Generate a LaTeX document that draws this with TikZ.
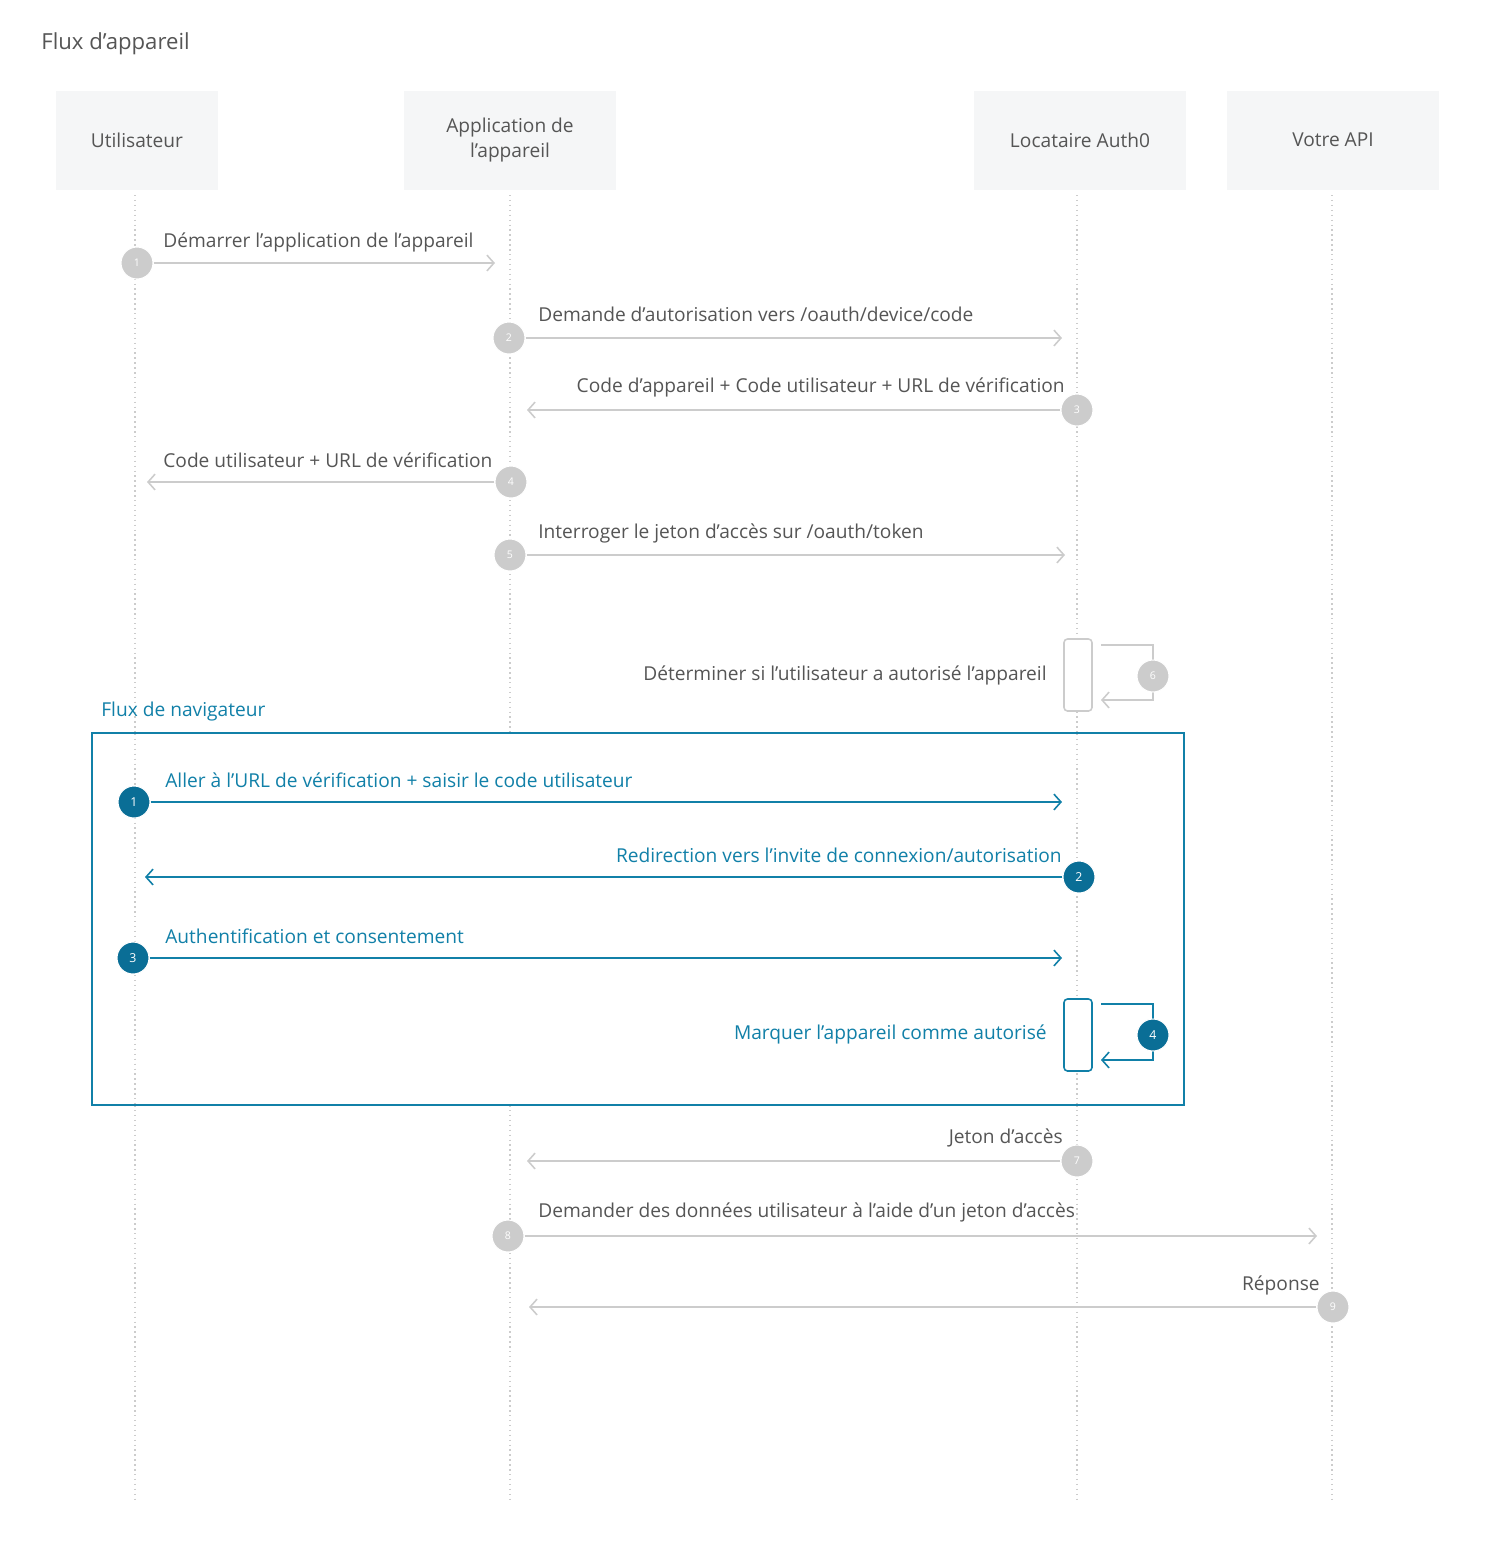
\documentclass[tikz,border=0pt]{standalone}
\usepackage{fontspec}
\setmainfont{Open Sans}
\usetikzlibrary{arrows.meta,positioning}
\definecolor{greyline}{RGB}{204,204,204}
\definecolor{greytext}{RGB}{85,85,85}
\definecolor{headfill}{RGB}{245,246,247}
\definecolor{teal}{RGB}{17,128,168}
\definecolor{tealdark}{RGB}{10,110,150}
\tikzset{
  % header
  headbox/.style ={fill=headfill,minimum height=1.98cm,align=center,text=greytext,font=\fontsize{10.9}{14.5}\selectfont},
  life/.style    ={greyline,dotted,line width=0.8pt},
  % message
  msgline/.style ={greyline,line width=0.9pt,-{Straight Barb[length=4pt,width=9pt]}},
  msgtext/.style ={text=greytext,font=\fontsize{10.9}{13}\selectfont,inner sep=0pt},
  stepdot/.style ={circle,fill=greyline,draw=white,line width=0.6pt,minimum size=0.64cm,inner sep=0pt,text=white,font=\fontsize{6}{6}\selectfont},
  bluline/.style ={teal,line width=0.9pt,-{Straight Barb[length=4pt,width=9pt]}},
  blutext/.style ={text=teal,font=\fontsize{10.9}{13}\selectfont,inner sep=0pt},
  bludot/.style  ={circle,fill=tealdark,draw=white,line width=0.6pt,minimum size=0.64cm,inner sep=0pt,text=white,font=\fontsize{7}{7}\selectfont}
}
\begin{document}
\begin{tikzpicture}[x=0.02cm,y=-0.02cm]
  \useasboundingbox (0,0) rectangle (1500,1543);
  \node[anchor=west,inner sep=0pt,text=greytext,font=\fontsize{12.6}{15}\selectfont] (title) at (41,44) {Flux d'appareil};
  % headers
  \node[headbox,minimum width=3.24cm] (user) at (137,140) {Utilisateur};
  \node[headbox,minimum width=4.26cm] (app) at (510,140) {Application de\\l’appareil};
  \node[headbox,minimum width=4.26cm] (auth) at (1080,140) {Locataire Auth0};
  \node[headbox,minimum width=4.26cm] (api) at (1333,140) {Votre API};
  \coordinate (userend) at (135,1503);
  \coordinate (append) at (510,1503);
  \coordinate (authend) at (1077,1503);
  \coordinate (apiend) at (1332,1503);
  \draw[life] (135,195) -- (userend);
  \draw[life] (510,195) -- (append);
  \draw[life] (1077,195) -- (authend);
  \draw[life] (1332,195) -- (apiend);
  % frame
  \draw[teal,line width=0.9pt,fill=white] (92,733) rectangle (1184,1105);
  \draw[life] (135,734) -- (135,1104);
  \draw[life] (1077,734) -- (1077,1104);
  \node[blutext,anchor=west] (frametext) at (101,712) {Flux de navigateur};
  % grey messages
  \coordinate (e1) at (495,263);
  \node[stepdot] (s1) at (137,263) {1};
  \draw[msgline] (s1) -- (e1);
  \node[msgtext,anchor=west] (t1) at (163,242) {Démarrer l’application de l’appareil};
  \coordinate (e2) at (1062,338);
  \node[stepdot] (s2) at (509,338) {2};
  \draw[msgline] (s2) -- (e2);
  \node[msgtext,anchor=west] (t2) at (538,314) {Demande d’autorisation vers /oauth/device/code};
  \coordinate (e3) at (527,410);
  \node[stepdot] (s3) at (1077,410) {3};
  \draw[msgline] (s3) -- (e3);
  \node[msgtext,anchor=east] (t3) at (1065,387) {Code d’appareil + Code utilisateur + URL de vérification};
  \coordinate (e4) at (147,482);
  \node[stepdot] (s4) at (511,482) {4};
  \draw[msgline] (s4) -- (e4);
  \node[msgtext,anchor=west] (t4) at (163,460) {Code utilisateur + URL de vérification};
  \coordinate (e5) at (1065,555);
  \node[stepdot] (s5) at (510,555) {5};
  \draw[msgline] (s5) -- (e5);
  \node[msgtext,anchor=west] (t5) at (538,533) {Interroger le jeton d’accès sur /oauth/token};
  % self call 6
  \draw[greyline,line width=0.9pt,fill=white,rounded corners=2pt] (1064,639) rectangle (1092,711);
  \coordinate (b6) at (1101,645);
  \coordinate (e6) at (1101,700);
  \draw[msgline] (b6) -- (1153,645) -- (1153,700) -- (e6);
  \node[stepdot] (s6) at (1153,676) {6};
  \node[msgtext,anchor=east] (t6) at (1047,675) {Déterminer si l’utilisateur a autorisé l’appareil};
  % blue messages
  \coordinate (f1) at (1062,802);
  \node[bludot] (b1) at (134,802) {1};
  \draw[bluline] (b1) -- (f1);
  \node[blutext,anchor=west] (u1) at (165,780) {Aller à l’URL de vérification + saisir le code utilisateur};
  \coordinate (f2) at (145,877);
  \node[bludot] (b2) at (1079,877) {2};
  \draw[bluline] (b2) -- (f2);
  \node[blutext,anchor=east] (u2) at (1062,855) {Redirection vers l’invite de connexion/autorisation};
  \coordinate (f3) at (1062,958);
  \node[bludot] (b3) at (133,958) {3};
  \draw[bluline] (b3) -- (f3);
  \node[blutext,anchor=west] (u3) at (165,936) {Authentification et consentement};
  \draw[teal,line width=0.9pt,fill=white,rounded corners=2pt] (1064,999) rectangle (1092,1071);
  \coordinate (g4) at (1101,1004);
  \coordinate (f4) at (1101,1060);
  \draw[bluline] (g4) -- (1153,1004) -- (1153,1060) -- (f4);
  \node[bludot] (b4) at (1153,1035) {4};
  \node[blutext,anchor=east] (u4) at (1047,1034) {Marquer l’appareil comme autorisé};
  % final grey messages
  \coordinate (e7) at (527,1161);
  \node[stepdot] (s7) at (1077,1161) {7};
  \draw[msgline] (s7) -- (e7);
  \node[msgtext,anchor=east] (t7) at (1063,1138) {Jeton d’accès};
  \coordinate (e8) at (1317,1236);
  \node[stepdot] (s8) at (508,1236) {8};
  \draw[msgline] (s8) -- (e8);
  \node[msgtext,anchor=west] (t8) at (538,1212) {Demander des données utilisateur à l’aide d’un jeton d’accès};
  \coordinate (e9) at (529,1307);
  \node[stepdot] (s9) at (1333,1307) {9};
  \draw[msgline] (s9) -- (e9);
  \node[msgtext,anchor=east] (t9) at (1320,1285) {Réponse};
\end{tikzpicture}
\end{document}
